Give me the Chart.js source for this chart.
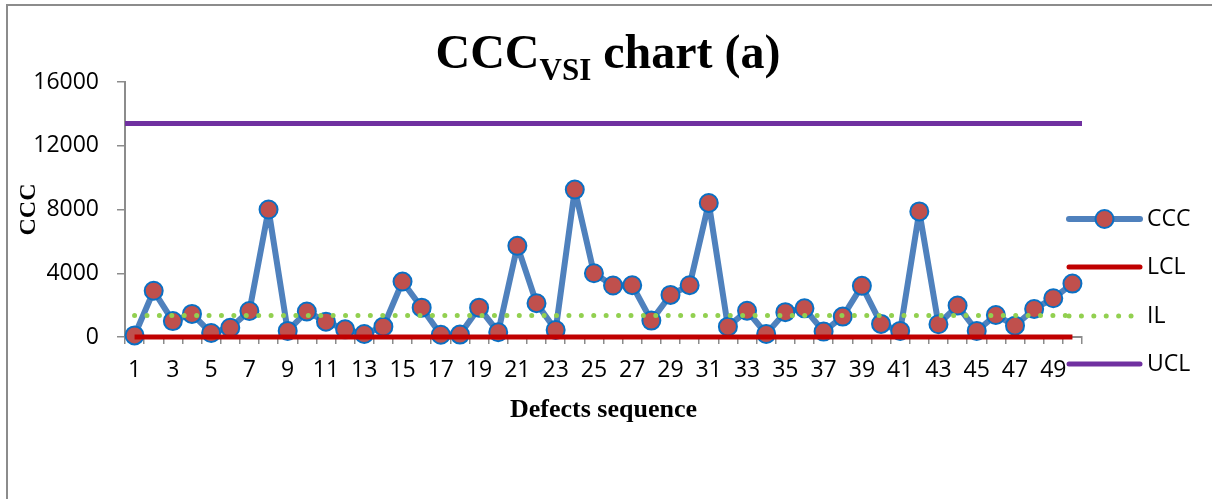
<!DOCTYPE html>
<html>
<head>
<meta charset="utf-8">
<title>CCC VSI chart (a)</title>
<script src="https://cdn.jsdelivr.net/npm/chart.js@4/dist/chart.umd.min.js"></script>
<style>
  html, body { margin: 0; padding: 0; background: #fff; overflow: hidden; }
  #wrap { position: relative; width: 1212px; height: 499px; overflow: hidden; }
  #frame {
    position: absolute; left: 6px; top: 4px; width: 1400px; height: 700px;
    border-left: 2px solid #8c8c8c; border-top: 2px solid #8c8c8c;
  }
  #title {
    position: absolute; left: 0; top: 28px; width: 1216px; text-align: center;
    font: bold 48px/48px 'Liberation Serif', 'Times New Roman', serif; color: #000;
    white-space: nowrap;
  }
  #title .sub { font-size: 31px; position: relative; top: 12px; }
  canvas { position: absolute; left: 0; top: 0; }
</style>
</head>
<body>
<div id="wrap">
  <div id="frame"></div>
  <canvas id="chart" width="1212" height="499"></canvas>
  <div id="title">CCC<span class="sub">VSI</span> chart (a)</div>
</div>
<script>
// ---- données ----
const sequence = Array.from({ length: 50 }, (_, i) => String(i + 1));

const cccValues = [
  100, 2900, 1000, 1450, 250, 580, 1630, 8000, 380, 1600,
  960, 480, 190, 650, 3480, 1840, 140, 150, 1840, 300,
  5720, 2120, 440, 9250, 4000, 3230, 3250, 1030, 2640, 3250,
  8410, 650, 1650, 190, 1560, 1800, 340, 1280, 3210, 820,
  380, 7880, 800, 1970, 380, 1380, 710, 1760, 2430, 3350
];

const LCL = 0;
const IL = 1350;
const UCL = 13400;

const yTicks = [0, 4000, 8000, 12000, 16000];

const lclValues = sequence.map(() => LCL);
const ilValues = sequence.map(() => IL);
// UCL couvre toute la largeur de l'axe (bords de catégories)
const uclPoints = [{ x: 0.5, y: UCL }, { x: sequence.length + 0.5, y: UCL }];

const SANS = "'Open Sans', 'Liberation Sans', sans-serif";
const SERIF = "'Liberation Serif', 'Times New Roman', serif";
const AXIS_GREY = '#8c8c8c';

// ---- légende à droite (ligne + marqueur comme dans Excel) ----
const sideLegend = {
  id: 'sideLegend',
  afterDraw(chart) {
    const ctx = chart.ctx;
    const area = chart.chartArea;
    const x0 = area.right - 13, x1 = area.right + 58, tx = area.right + 65;
    const rows = [219, 267, 316, 364];
    chart.data.datasets.forEach((ds, i) => {
      const y = rows[i];
      ctx.save();
      ctx.strokeStyle = ds.borderColor;
      ctx.lineWidth = ds.borderWidth;
      ctx.lineCap = 'round';
      ctx.setLineDash(ds.borderDash || []);
      ctx.beginPath();
      ctx.moveTo(x0, y);
      ctx.lineTo(x1, y);
      ctx.stroke();
      ctx.setLineDash([]);
      if (ds.pointRadius) {
        ctx.beginPath();
        ctx.arc((x0 + x1) / 2, y, ds.pointRadius, 0, Math.PI * 2);
        ctx.fillStyle = ds.pointBackgroundColor;
        ctx.fill();
        ctx.lineWidth = ds.pointBorderWidth;
        ctx.strokeStyle = ds.pointBorderColor;
        ctx.stroke();
      }
      ctx.fillStyle = '#000';
      ctx.font = '23px ' + SANS;
      ctx.textBaseline = 'middle';
      ctx.textAlign = 'left';
      ctx.fillText(ds.label, tx, y);
      ctx.restore();
    });
  }
};

new Chart(document.getElementById('chart'), {
  type: 'line',
  data: {
    labels: sequence,
    datasets: [
      {
        label: 'CCC',
        data: cccValues,
        borderColor: '#4f81bd',
        borderWidth: 6,
        borderJoinStyle: 'round',
        borderCapStyle: 'round',
        pointRadius: 9,
        pointHoverRadius: 9,
        pointBackgroundColor: '#c0504d',
        pointBorderColor: '#0a70c4',
        pointBorderWidth: 2,
        tension: 0,
        clip: false,
        order: 4
      },
      {
        label: 'LCL',
        data: lclValues,
        borderColor: '#c00000',
        borderWidth: 5,
        pointRadius: 0,
        clip: false,
        order: 3
      },
      {
        label: 'IL',
        data: ilValues,
        borderColor: '#92d050',
        borderWidth: 5,
        borderDash: [0.01, 12.4],
        borderCapStyle: 'round',
        pointRadius: 0,
        clip: false,
        order: 2
      },
      {
        label: 'UCL',
        data: uclPoints,
        xAxisID: 'xEdge',
        borderColor: '#7030a0',
        borderWidth: 5,
        pointRadius: 0,
        clip: false,
        order: 1
      }
    ]
  },
  options: {
    responsive: false,
    animation: false,
    events: [],
    layout: { padding: { left: 0, top: 82, right: 130, bottom: 0 } },
    plugins: {
      legend: { display: false },
      tooltip: { enabled: false },
      title: { display: false }
    },
    scales: {
      x: {
        type: 'category',
        offset: true,
        afterFit(scale) { scale.height = 162; },
        grid: {
          display: true,
          offset: true,
          drawOnChartArea: false,
          drawTicks: true,
          tickLength: 7,
          color: AXIS_GREY,
          lineWidth: 1.5
        },
        border: { display: true, color: AXIS_GREY, width: 2 },
        ticks: {
          autoSkip: false,
          maxRotation: 0,
          padding: 13,
          color: '#000',
          font: { family: SANS, size: 23 },
          callback: (v, i) => (i % 2 === 0 ? sequence[i] : '')
        },
        title: {
          display: true,
          text: 'Defects sequence',
          color: '#000',
          font: { family: SERIF, size: 26, weight: 'bold' },
          padding: { top: 0, bottom: 73 }
        }
      },
      xEdge: {
        type: 'linear',
        display: false,
        min: 0.5,
        max: sequence.length + 0.5
      },
      y: {
        min: yTicks[0],
        max: yTicks[yTicks.length - 1],
        afterFit(scale) { scale.width = 125; },
        afterBuildTicks(scale) { scale.ticks = yTicks.map(v => ({ value: v })); },
        grid: {
          display: true,
          drawOnChartArea: false,
          drawTicks: true,
          tickLength: 8,
          color: AXIS_GREY,
          lineWidth: 1.5
        },
        border: { display: true, color: AXIS_GREY, width: 2 },
        ticks: {
          padding: 18,
          color: '#000',
          font: { family: SANS, size: 23 },
          callback: v => String(v)
        },
        title: {
          display: true,
          text: 'CCC',
          color: '#000',
          font: { family: SERIF, size: 24, weight: 'bold' },
          padding: { top: 14, bottom: 0 }
        }
      }
    }
  },
  plugins: [sideLegend]
});
</script>
</body>
</html>
